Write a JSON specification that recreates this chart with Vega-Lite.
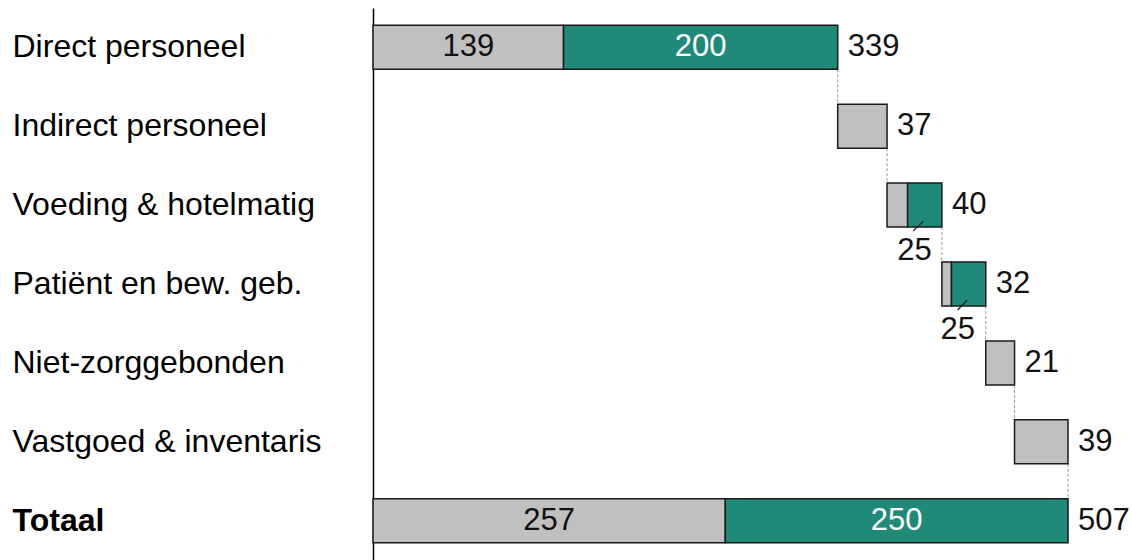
{
  "$schema": "https://vega.github.io/schema/vega-lite/v6.json",
  "width": 695,
  "height": 552,
  "autosize": {"type": "none"},
  "padding": {"left": 373, "top": 8, "right": 64, "bottom": 0},
  "background": "white",
  "config": {"view": {"stroke": null}, "font": "Liberation Sans", "text": {"font": "Liberation Sans"}},
  "datasets": {
    "segments": [
      {"cat": "Direct personeel", "start": 0, "end": 139, "kind": "grey"},
      {"cat": "Direct personeel", "start": 139, "end": 339, "kind": "green"},
      {"cat": "Indirect personeel", "start": 339, "end": 375, "kind": "grey"},
      {"cat": "Voeding & hotelmatig", "start": 375, "end": 390, "kind": "grey"},
      {"cat": "Voeding & hotelmatig", "start": 390, "end": 415, "kind": "green"},
      {"cat": "Patiënt en bew. geb.", "start": 415, "end": 422, "kind": "grey"},
      {"cat": "Patiënt en bew. geb.", "start": 422, "end": 447, "kind": "green"},
      {"cat": "Niet-zorggebonden", "start": 447, "end": 468, "kind": "grey"},
      {"cat": "Vastgoed & inventaris", "start": 468, "end": 507, "kind": "grey"},
      {"cat": "Totaal", "start": 0, "end": 257, "kind": "grey"},
      {"cat": "Totaal", "start": 257, "end": 507, "kind": "green"}
    ],
    "inside": [
      {"cat": "Direct personeel", "mid": 69.5, "value": 139, "kind": "grey"},
      {"cat": "Direct personeel", "mid": 239, "value": 200, "kind": "green"},
      {"cat": "Totaal", "mid": 128.5, "value": 257, "kind": "grey"},
      {"cat": "Totaal", "mid": 382, "value": 250, "kind": "green"}
    ],
    "totals": [
      {"cat": "Direct personeel", "end": 339, "value": 339},
      {"cat": "Indirect personeel", "end": 375, "value": 37},
      {"cat": "Voeding & hotelmatig", "end": 415, "value": 40},
      {"cat": "Patiënt en bew. geb.", "end": 447, "value": 32},
      {"cat": "Niet-zorggebonden", "end": 468, "value": 21},
      {"cat": "Vastgoed & inventaris", "end": 507, "value": 39},
      {"cat": "Totaal", "end": 507, "value": 507}
    ],
    "connectors": [
      {"cat": "Direct personeel", "cat2": "Indirect personeel", "x": 339},
      {"cat": "Indirect personeel", "cat2": "Voeding & hotelmatig", "x": 375},
      {"cat": "Voeding & hotelmatig", "cat2": "Patiënt en bew. geb.", "x": 415},
      {"cat": "Patiënt en bew. geb.", "cat2": "Niet-zorggebonden", "x": 447},
      {"cat": "Niet-zorggebonden", "cat2": "Vastgoed & inventaris", "x": 468},
      {"cat": "Vastgoed & inventaris", "cat2": "Totaal", "x": 507}
    ],
    "leaders": [
      {"cat": "Voeding & hotelmatig", "x1": 401.5, "x2": 394, "lx": 395, "value": 25},
      {"cat": "Patiënt en bew. geb.", "x1": 433.5, "x2": 426.5, "lx": 426.5, "value": 25}
    ]
  },
  "encoding": {
    "y": {
      "field": "cat",
      "type": "nominal",
      "sort": null,
      "scale": {
        "domain": ["Direct personeel", "Indirect personeel", "Voeding & hotelmatig", "Patiënt en bew. geb.", "Niet-zorggebonden", "Vastgoed & inventaris", "Totaal"],
        "paddingInner": 0.4423,
        "paddingOuter": 0.219
      },
      "axis": {
        "title": null,
        "domain": true,
        "domainColor": "#000000",
        "domainWidth": 1.5,
        "ticks": false,
        "tickSize": 0,
        "grid": false,
        "labelAlign": "left",
        "labelBaseline": "middle",
        "labelPadding": 361,
        "labelFontSize": 32,
        "labelFont": "Liberation Sans",
        "labelColor": "#000000",
        "labelLimit": 500,
        "labelFontWeight": {"condition": {"test": "datum.value == 'Totaal'", "value": "bold"}, "value": "normal"}
      }
    }
  },
  "layer": [
    {
      "data": {"name": "connectors"},
      "mark": {"type": "rule", "color": "#9a9a9a", "strokeWidth": 1, "strokeDash": [3, 2], "yOffset": 22, "y2Offset": -22},
      "encoding": {
        "x": {"field": "x", "type": "quantitative", "scale": {"domain": [0, 507], "nice": false, "zero": true}, "axis": null},
        "y2": {"field": "cat2"}
      }
    },
    {
      "data": {"name": "segments"},
      "mark": {"type": "bar", "stroke": "#1a1a1a", "strokeWidth": 1.5},
      "encoding": {
        "x": {"field": "start", "type": "quantitative", "scale": {"domain": [0, 507], "nice": false}, "axis": null},
        "x2": {"field": "end"},
        "color": {"field": "kind", "type": "nominal", "scale": {"domain": ["grey", "green"], "range": ["#c0c0c0", "#1f8a78"]}, "legend": null}
      }
    },
    {
      "data": {"name": "leaders"},
      "mark": {"type": "rule", "color": "#222222", "strokeWidth": 1.3, "yOffset": 16, "y2Offset": 26},
      "encoding": {
        "x": {"field": "x1", "type": "quantitative"},
        "x2": {"field": "x2"},
        "y2": {"field": "cat"}
      }
    },
    {
      "data": {"name": "leaders"},
      "mark": {"type": "text", "fontSize": 31, "align": "center", "baseline": "middle", "dy": 46, "color": "#111111"},
      "encoding": {
        "x": {"field": "lx", "type": "quantitative"},
        "text": {"field": "value", "type": "quantitative"}
      }
    },
    {
      "data": {"name": "inside"},
      "mark": {"type": "text", "fontSize": 31, "align": "center", "baseline": "middle"},
      "encoding": {
        "x": {"field": "mid", "type": "quantitative"},
        "text": {"field": "value", "type": "quantitative"},
        "color": {"condition": {"test": "datum.kind == 'green'", "value": "#ffffff"}, "value": "#111111"}
      }
    },
    {
      "data": {"name": "totals"},
      "mark": {"type": "text", "fontSize": 31, "align": "left", "baseline": "middle", "dx": 10, "color": "#111111"},
      "encoding": {
        "x": {"field": "end", "type": "quantitative"},
        "text": {"field": "value", "type": "quantitative"}
      }
    }
  ]
}
